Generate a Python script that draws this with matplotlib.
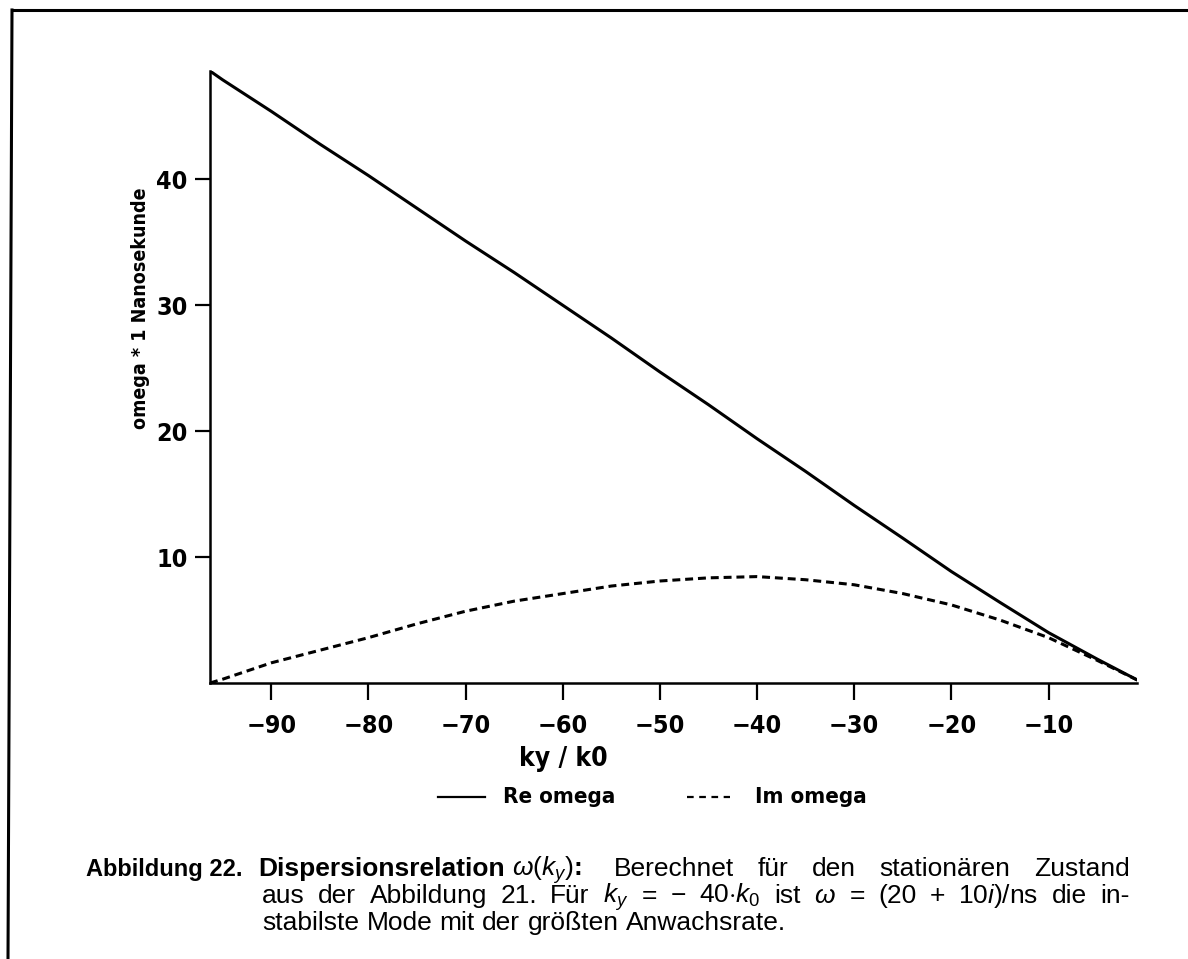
import matplotlib
matplotlib.use("Agg")
import matplotlib.pyplot as plt
from matplotlib.lines import Line2D

ky = [-96.3, -95, -90, -85, -80, -75, -70, -65, -60, -55, -50, -45, -40,
      -35, -30, -25, -20, -15, -10, -5, -0.9]
re_omega = [48.6, 47.9, 45.4, 42.8, 40.3, 37.7, 35.1, 32.6, 30.0, 27.4, 24.7,
            22.1, 19.4, 16.8, 14.1, 11.5, 8.85, 6.4, 4.0, 1.9, 0.25]
im_omega = [0.0, 0.3, 1.6, 2.6, 3.6, 4.7, 5.7, 6.5, 7.1, 7.7, 8.1, 8.35,
            8.45, 8.2, 7.8, 7.1, 6.2, 5.0, 3.6, 1.8, 0.25]

xticks = [-90, -80, -70, -60, -50, -40, -30, -20, -10]
yticks = [10, 20, 30, 40]

plot_font = dict(family="DejaVu Sans", fontweight="bold", fontstretch="condensed")
text_font = "Liberation Sans"
plt.rcParams["mathtext.fontset"] = "custom"
plt.rcParams["mathtext.rm"] = "Liberation Sans"
plt.rcParams["mathtext.it"] = "Liberation Sans:italic"
plt.rcParams["mathtext.bf"] = "Liberation Sans:bold"

W, H = 1188, 959
fig = plt.figure(figsize=(W / 100, H / 100), dpi=100)
ax = fig.add_axes([210 / W, 1 - 683 / H, (1137 - 210) / W, (683 - 71) / H])

ax.plot(ky, re_omega, color="black", lw=2.2)
ax.plot(ky, im_omega, color="black", lw=2.2, linestyle=(0, (2.6, 1.6)))

ax.set_xlim(-96.3, -0.9)
ax.set_ylim(0, 48.6)
ax.set_xticks(xticks)
ax.set_yticks(yticks)
ax.set_xticklabels(["\u2212%d" % abs(t) for t in xticks])
ax.spines["top"].set_visible(False)
ax.spines["right"].set_visible(False)
for s in ("left", "bottom"):
    ax.spines[s].set_linewidth(1.8)
ax.tick_params(axis="x", direction="out", length=12, width=1.6, pad=10,
               labelsize=18)
ax.tick_params(axis="y", direction="out", length=11, width=1.6, pad=5,
               labelsize=18)
for lab in ax.get_xticklabels() + ax.get_yticklabels():
    lab.set_fontweight("bold")
    lab.set_fontstretch("condensed")

fig.text(563 / W, 1 - 759 / H, "ky / k0", ha="center", va="center",
         fontsize=19, **plot_font)
fig.text(140 / W, 1 - 308 / H, "omega * 1 Nanosekunde", rotation=90,
         ha="center", va="center", fontsize=14, **plot_font)

# legend below the axis title
fig.add_artist(Line2D([438 / W, 485 / W], [1 - 797 / H] * 2, color="black", lw=1.6))
fig.text(503 / W, 1 - 797 / H, "Re omega", ha="left", va="center",
         fontsize=16, **plot_font)
fig.add_artist(Line2D([687 / W, 730 / W], [1 - 797 / H] * 2, color="black",
                      lw=1.6, linestyle=(0, (3, 2.5))))
fig.text(755 / W, 1 - 797 / H, "Im omega", ha="left", va="center",
         fontsize=16, **plot_font)

# page frame
fig.add_artist(Line2D([12 / W, 1], [1 - 10 / H] * 2, color="black", lw=2.2))
fig.add_artist(Line2D([12 / W, 8 / W], [1 - 10 / H, 0], color="black", lw=2.2))

# caption, set word by word so that full lines are justified
renderer = fig.canvas.get_renderer()


def caption_line(words, x0, y, x1=None, size=19):
    arts = []
    for w, bold in words:
        t = fig.text(x0 / W, 1 - y / H, w, fontsize=size, family=text_font,
                     fontweight="bold" if bold else "normal", va="baseline")
        arts.append(t)
    widths = [a.get_window_extent(renderer).width for a in arts]
    space = size * 100 / 72 * 0.28
    if x1 is not None and len(arts) > 1:
        space = (x1 - x0 - sum(widths)) / (len(arts) - 1)
    x = x0
    for a, w in zip(arts, widths):
        a.set_x(x / W)
        x += w + space
    return x - space


caption_line([("Abbildung 22.", True)], 86, 876, size=17)
end = caption_line([("Dispersionsrelation", True), (r"$\omega(k_y)$:", True)],
                   258, 876)
caption_line([("Berechnet", False), ("für", False), ("den", False),
              ("stationären", False), ("Zustand", False)], end + 32, 876, 1130)
caption_line([("aus", False), ("der", False), ("Abbildung", False),
              ("21.", False), ("Für", False), (r"$k_y$", False), ("=", False),
              ("\u2212", False), (r"$40{\cdot}k_0$", False), ("ist", False),
              (r"$\omega$", False), ("=", False), ("(20", False), ("+", False),
              (r"$10i)/\mathrm{ns}$", False), ("die", False), ("in-", False)],
             262, 903, 1130)
caption_line([("stabilste", False), ("Mode", False), ("mit", False),
              ("der", False), ("größten", False), ("Anwachsrate.", False)],
             262, 930)

fig.savefig("out.png", dpi=100)
